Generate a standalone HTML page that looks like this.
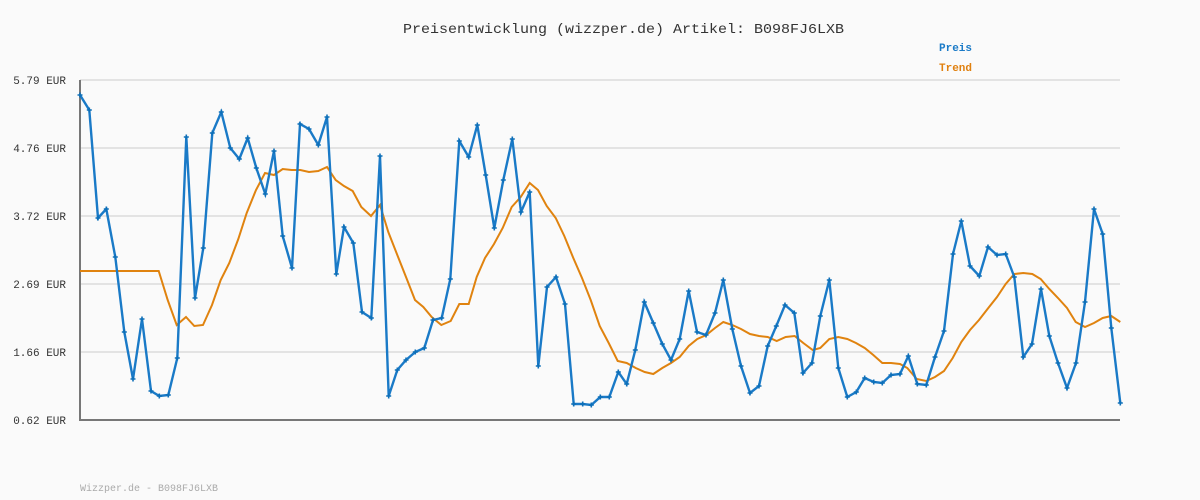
<!DOCTYPE html>
<html><head><meta charset="utf-8"><style>
body{margin:0;background:#fafafa;}
svg{display:block;}
text{font-family:"Liberation Mono","DejaVu Sans Mono",monospace;}
</style></head><body>
<svg width="1200" height="500" viewBox="0 0 1200 500" xmlns="http://www.w3.org/2000/svg">
<rect width="1200" height="500" fill="#fafafa"/>
<g stroke="#e3e3e3" stroke-width="2">
<line x1="80" y1="80" x2="1120" y2="80"/>
<line x1="80" y1="148" x2="1120" y2="148"/>
<line x1="80" y1="216" x2="1120" y2="216"/>
<line x1="80" y1="284" x2="1120" y2="284"/>
<line x1="80" y1="352" x2="1120" y2="352"/>
</g>
<line x1="80" y1="80" x2="80" y2="420" stroke="#777" stroke-width="2"/>
<line x1="79" y1="420" x2="1120" y2="420" stroke="#777" stroke-width="2"/>
<g font-size="11" fill="#333" text-anchor="end">
<text x="66" y="84">5.79 EUR</text>
<text x="66" y="152">4.76 EUR</text>
<text x="66" y="220">3.72 EUR</text>
<text x="66" y="288">2.69 EUR</text>
<text x="66" y="356">1.66 EUR</text>
<text x="66" y="424">0.62 EUR</text>
</g>
<text x="403" y="33" font-size="14" fill="#333" textLength="441" lengthAdjust="spacingAndGlyphs">Preisentwicklung (wizzper.de) Artikel: B098FJ6LXB</text>
<text x="939" y="51" font-size="11" font-weight="bold" fill="#1a7ac7">Preis</text>
<text x="939" y="71" font-size="11" font-weight="bold" fill="#e0800f">Trend</text>
<text x="80" y="491" font-size="10" fill="#aaa">Wizzper.de - B098FJ6LXB</text>
<polyline fill="none" stroke="#e0830f" stroke-width="2" points="80,271 158.7,271 167.7,300 176.7,325 186,317 194.3,326 203,325 212,305 220.7,280 229.3,263 238.3,239 246.7,213 256,190 265,173 274,175 282.7,169 291.7,170 300.3,170 309,172 318.3,171 327,167 335.7,180 344,186 352.7,191 361.3,207 371,216 380,205 388.3,232 397.3,255 406,277 415,300 423.3,307 431.7,317 441.3,325 450.7,321 459.3,304 468.7,304 476.7,277 485,258 494,244 502.7,228 511.7,207 520.7,197 529.7,183 538,190 546.7,206 555.7,218 564.3,236 573.3,258 582,278 590.7,300 599.7,326 608.7,343 617.7,361 626.7,363 635.7,368 644.7,372 653.3,374 662.3,368 671,363 679.7,357 688.7,346 697.3,339 706.3,335 715,328 723.3,322 732.3,325 741,329 750,334 759,336 767.7,337 776.7,341 785.7,337 794.7,336 803.3,343 812.7,350 820.3,348 829.3,339 838.3,337 847.3,339 856,343 864.7,348 873.3,355 882.3,363 891,363 900,364 907.3,368 916.7,379 926.3,381 935,377 944,371 952.7,358 961.3,342 970,330 979,320 988.3,308 997,297 1005.7,284 1014.3,274 1023.3,273 1032.3,274 1040.7,279 1049.3,289 1058,298 1067,308 1075.7,322 1085,327 1094,323 1102.7,318 1111.3,316 1120.3,322"/>
<polyline id="p" fill="none" stroke="#1a7ac7" stroke-width="2.4" points="80,95 89.3,110 98,218 106.3,209 115.3,257 124.3,332 133,379 142,319 151,391 159.3,396 168.3,395 177.3,358 186.3,137 195,298 203.3,248 212.3,133 221.3,112 230.3,148 239.3,159 247.7,138 256.3,168 265.3,194 274,151 282.7,236 292,268 300,124 309,129 318.3,145 327,117 336.3,274 344,227 353.3,243 362,312 371.3,318 380,156 388.7,396 397.3,370 406,360 415.3,352 424.3,348 433,320 441.7,318 450.3,279 459.3,141 468.7,157 477.3,125 485.7,175 494.3,228 503.3,180 512.3,139 521,212 529.7,192 538.3,366 547,287 556,277 565,304 573.7,404 582.7,404 591.3,405 600.3,397 609.3,397 618.3,372 626.7,384 635.3,350 644.3,302 653.3,323 662.3,344 671,360 679.7,339 688.7,291 697,332 706,335 715,313 723.3,280 732.3,329 741,366 750,393 759,386 767.7,346 776.3,326 785,305 794.3,313 803,373 812,363 820.3,316 829.3,280 838.3,368 847.3,397 856.3,392 864.7,378 873.7,382 882.3,383 891,375 900,374 908.3,356 917.3,384 926.3,385 935,357 944,331 953,254 961.3,221 970,266 979.3,276 988,247 997,255 1005.7,254 1014.3,277 1023.3,357 1032,344 1041,289 1049.3,336 1058,363 1067,388 1076,363 1085,302 1094,209 1102.7,234 1111.3,328 1120.3,403"/>
</svg>
<script>
(function(){var p=document.getElementById('p').getAttribute('points').trim().split(/\s+/);var s=document.querySelector('svg');var ns='http://www.w3.org/2000/svg';p.forEach(function(q){var a=q.split(',');var c=document.createElementNS(ns,'path');var x=+a[0],y=+a[1];c.setAttribute('d','M'+(x-2.5)+' '+y+'H'+(x+2.5)+'M'+x+' '+(y-2.5)+'V'+(y+2.5));c.setAttribute('stroke','#0d6fb8');c.setAttribute('stroke-width','1.6');s.appendChild(c);});})();
</script>
</body></html>
